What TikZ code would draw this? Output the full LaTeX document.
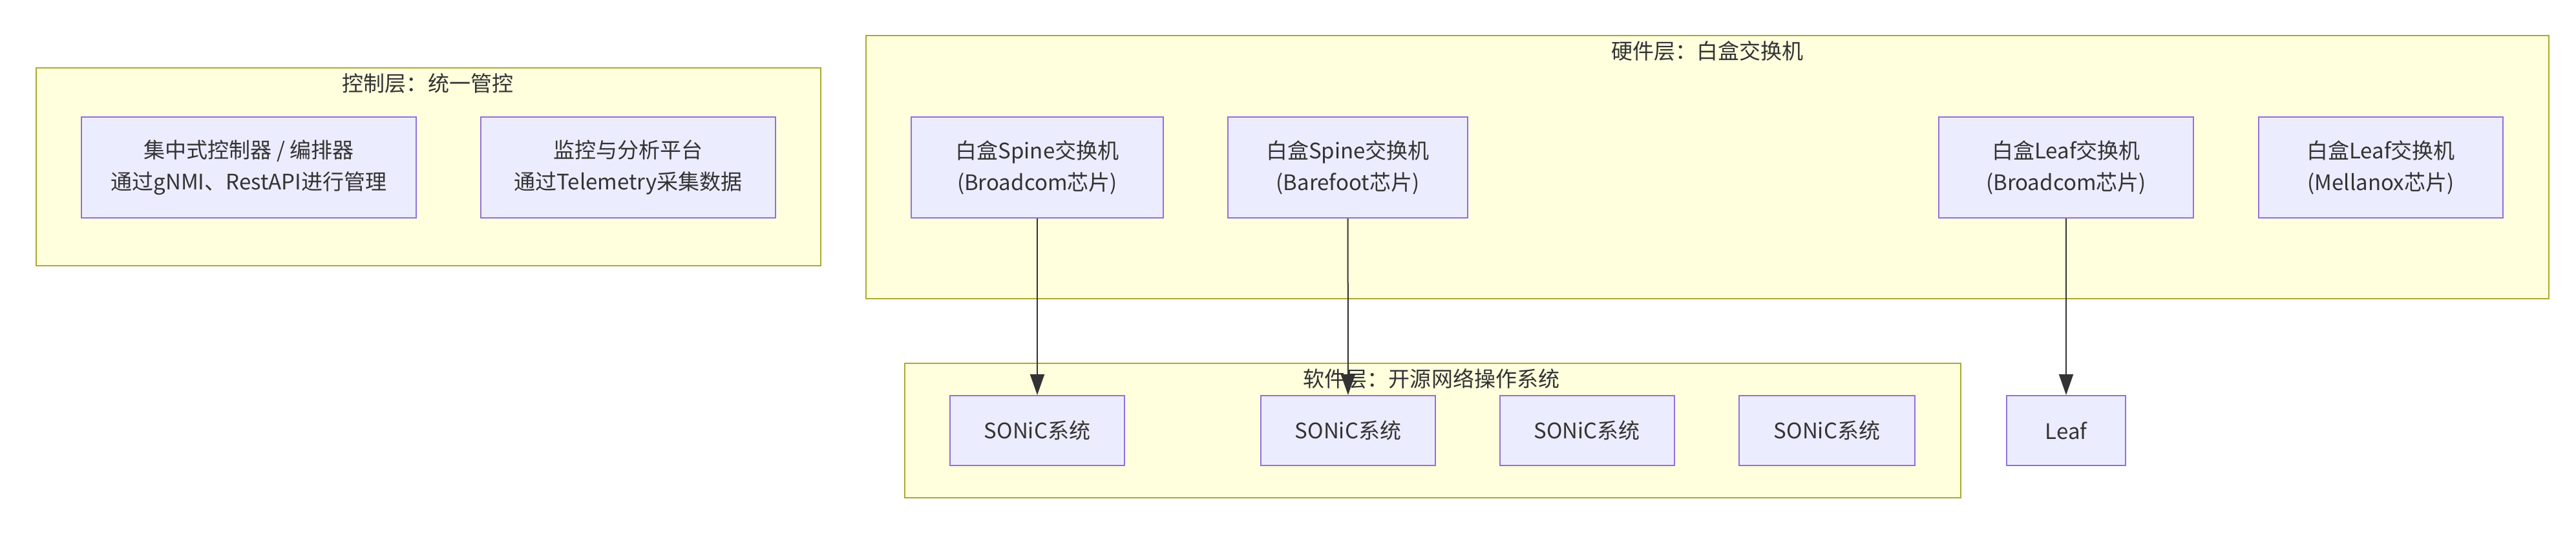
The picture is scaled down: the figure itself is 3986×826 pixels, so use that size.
\documentclass[tikz,border=0pt]{standalone}
\usepackage{fontspec}
\setmainfont{Noto Sans CJK SC}
\usetikzlibrary{arrows.meta}
\definecolor{nfill}{HTML}{ECECFF}
\definecolor{ndraw}{HTML}{9370DB}
\definecolor{cfill}{HTML}{FFFFDE}
\definecolor{cdraw}{HTML}{AAAA33}
\definecolor{txt}{HTML}{333333}
\begin{document}
\begin{tikzpicture}[x=0.1mm,y=-0.1mm,
  font=\fontsize{9.4pt}{14pt}\selectfont,
  cluster/.style={draw=cdraw,fill=cfill,line width=0.22mm},
  ctitle/.style={text=txt,inner sep=0},
  box/.style={draw=ndraw,fill=nfill,line width=0.2mm,text=txt,align=center,inner sep=0},
  arr/.style={draw=txt,line width=0.2mm,-{Triangle[length=3.2mm,width=2.2mm]}}]
\useasboundingbox (0,0) rectangle (3986,826);
% clusters
\draw[cluster] (56,105) rectangle (1270,411);
\node[ctitle] (tc) at (662,129) {控制层：统一管控};
\draw[cluster] (1340,55) rectangle (3944,462);
\node[ctitle] (th) at (2642,79) {硬件层：白盒交换机};
\draw[cluster] (1400,562) rectangle (3034,770);
\node[ctitle] (ts) at (2215,586) {软件层：开源网络操作系统};
% control nodes
\node[box,minimum width=51.8mm,minimum height=15.6mm] (ctl) at (385,259) {集中式控制器 / 编排器\\通过gNMI、RestAPI进行管理};
\node[box,minimum width=45.6mm,minimum height=15.6mm] (mon) at (972,259) {监控与分析平台\\通过Telemetry采集数据};
% hardware nodes
\node[box,minimum width=39mm,minimum height=15.6mm] (sp1) at (1605,259) {白盒Spine交换机\\(Broadcom芯片)};
\node[box,minimum width=37.1mm,minimum height=15.6mm] (sp2) at (2085.5,259) {白盒Spine交换机\\(Barefoot芯片)};
\node[box,minimum width=39.4mm,minimum height=15.6mm] (lf1) at (3197,259) {白盒Leaf交换机\\(Broadcom芯片)};
\node[box,minimum width=37.8mm,minimum height=15.6mm] (lf2) at (3684,259) {白盒Leaf交换机\\(Mellanox芯片)};
% software nodes
\node[box,minimum width=27mm,minimum height=10.8mm] (so1) at (1605,666) {SONiC系统};
\node[box,minimum width=27mm,minimum height=10.8mm] (so2) at (2086,666) {SONiC系统};
\node[box,minimum width=27mm,minimum height=10.8mm] (so3) at (2455.5,666) {SONiC系统};
\node[box,minimum width=27.2mm,minimum height=10.8mm] (so4) at (2827,666) {SONiC系统};
\node[box,minimum width=18.4mm,minimum height=10.8mm] (leaf) at (3197,666) {Leaf};
% arrows
\draw[arr] (sp1) -- (so1);
\draw[arr] (sp2) -- (so2);
\draw[arr] (lf1) -- (leaf);
\end{tikzpicture}
\end{document}
